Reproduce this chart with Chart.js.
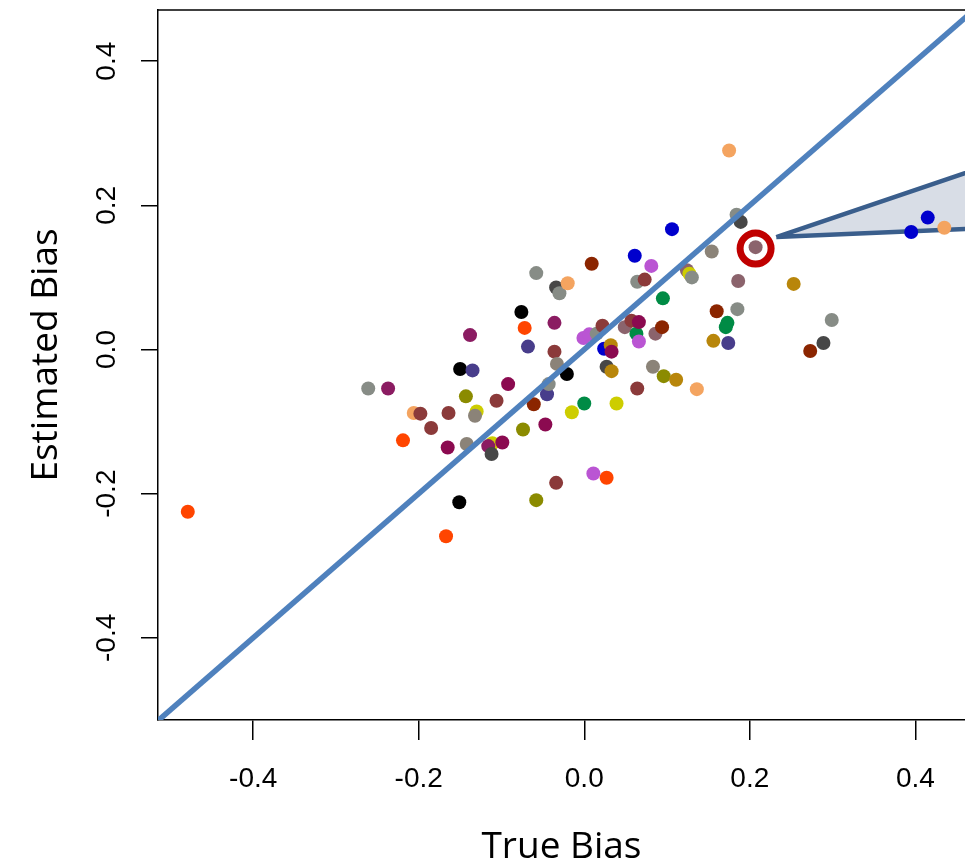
<!DOCTYPE html>
<html>
<head>
<meta charset="utf-8">
<script src="https://cdn.jsdelivr.net/npm/chart.js@4.4.1/dist/chart.umd.min.js"></script>
<style>
  html, body { margin: 0; padding: 0; background: #fff; }
  canvas { display: block; }
</style>
</head>
<body>
<canvas id="chart-bias" width="965" height="866"></canvas>
<script>
// values
const trueBias = [
  -0.479, -0.261, -0.237, -0.219, -0.206, -0.198, -0.185, -0.164, -0.165, -0.167,
  -0.151, -0.150, -0.135, -0.138, -0.143, -0.130, -0.132, -0.142, -0.106, -0.092,
  -0.111, -0.099, -0.116, -0.112, -0.076, -0.072, -0.068, -0.074, -0.061, -0.058,
  -0.058, -0.047, -0.045, -0.043, -0.036, -0.036, -0.033, -0.034, -0.030, -0.034,
  -0.021, -0.020, -0.015, 0.000, -0.001, 0.006, 0.009, 0.011, 0.015, 0.022,
  0.024, 0.027, 0.027, 0.032, 0.033, 0.033, 0.039, 0.049, 0.057, 0.061,
  0.064, 0.073, 0.063, 0.066, 0.066, 0.064, 0.081, 0.083, 0.086, 0.094,
  0.095, 0.096, 0.106, 0.111, 0.124, 0.127, 0.130, 0.136, 0.154, 0.156,
  0.160, 0.171, 0.173, 0.174, 0.175, 0.184, 0.189, 0.186, 0.185, 0.207,
  0.253, 0.273, 0.289, 0.299, 0.395, 0.415, 0.435
];
const estBias = [
  -0.225, -0.054, -0.054, -0.126, -0.088, -0.089, -0.109, -0.088, -0.136, -0.259,
  -0.212, -0.027, -0.029, 0.020, -0.065, -0.086, -0.092, -0.131, -0.071, -0.048,
  -0.130, -0.129, -0.134, -0.145, 0.052, 0.030, 0.004, -0.111, -0.076, 0.106,
  -0.209, -0.104, -0.062, -0.048, 0.037, -0.003, -0.020, 0.086, 0.078, -0.185,
  -0.034, 0.092, -0.087, -0.075, 0.016, 0.021, 0.119, -0.172, 0.022, 0.033,
  0.001, -0.024, -0.178, 0.006, -0.003, -0.030, -0.075, 0.031, 0.040, 0.130,
  0.094, 0.097, 0.022, 0.038, 0.011, -0.054, 0.116, -0.024, 0.022, 0.031,
  0.071, -0.037, 0.167, -0.042, 0.110, 0.105, 0.100, -0.055, 0.136, 0.012,
  0.053, 0.031, 0.037, 0.009, 0.276, 0.187, 0.177, 0.095, 0.056, 0.142,
  0.091, -0.002, 0.009, 0.041, 0.163, 0.183, 0.169
];
const dotColors = [
  '#FF4500', '#878C86', '#8B1C62', '#FF4500', '#F4A460', '#8B3A3A', '#8B3A3A', '#8B3A3A', '#8B0A50', '#FF4500',
  '#000000', '#000000', '#483D8B', '#8B1C62', '#8B8B00', '#CDCD00', '#8B8378', '#8B8378', '#8B3A3A', '#8B0A50',
  '#CDCD00', '#8B0A50', '#8B1C62', '#474747', '#000000', '#FF4500', '#483D8B', '#8B8B00', '#8B2500', '#878C86',
  '#8B8B00', '#8B0A50', '#483D8B', '#878C86', '#8B1C62', '#8B3A3A', '#8B8378', '#474747', '#878C86', '#8B3A3A',
  '#000000', '#F4A460', '#CDCD00', '#008B45', '#BA55D3', '#BA55D3', '#8B2500', '#BA55D3', '#878C86', '#8B3A3A',
  '#0000CD', '#474747', '#FF4500', '#B8860B', '#8B0A50', '#B8860B', '#CDCD00', '#8B636C', '#8B3A3A', '#0000CD',
  '#878C86', '#8B3A3A', '#008B45', '#8B0A50', '#BA55D3', '#8B3A3A', '#BA55D3', '#8B8378', '#8B636C', '#8B2500',
  '#008B45', '#8B8B00', '#0000CD', '#B8860B', '#8B636C', '#CDCD00', '#878C86', '#F4A460', '#8B8378', '#B8860B',
  '#8B2500', '#008B45', '#008B45', '#483D8B', '#F4A460', '#878C86', '#474747', '#8B636C', '#878C86', '#8B636C',
  '#B8860B', '#8B2500', '#474747', '#878C86', '#0000CD', '#0000CD', '#F4A460'
];
const xTicks = [-0.4, -0.2, 0.0, 0.2, 0.4];
const yTicks = [-0.4, -0.2, 0.0, 0.2, 0.4];
const xRange = [-0.515, 0.46];
const yRange = [-0.514, 0.471];
const diagonal = [-0.52, 0.47];
const highlightX = [0.207];
const highlightY = [0.140];
const calloutX = [0.232, 0.55, 0.55, 0.232];
const calloutY = [0.156, 0.2795, 0.1717, 0.156];

const dots = trueBias.map((x, i) => ({x: x, y: estBias[i]}));
const ring = highlightX.map((x, i) => ({x: x, y: highlightY[i]}));
const callout = calloutX.map((x, i) => ({x: x, y: calloutY[i]}));
const line = diagonal.map(v => ({x: v, y: v}));

function noPad(s) {
  s.paddingLeft = 0; s.paddingRight = 0; s.paddingTop = 0; s.paddingBottom = 0;
}

const frame = {
  id: 'frame',
  afterDraw(chart) {
    const {ctx, chartArea: a, scales: {y}} = chart;
    ctx.save();
    ctx.strokeStyle = '#000';
    ctx.lineWidth = 1.5;
    ctx.beginPath();
    ctx.moveTo(a.left, a.top);
    ctx.lineTo(a.right, a.top);
    ctx.stroke();
    ctx.fillStyle = '#000';
    ctx.textAlign = 'center';
    ctx.textBaseline = 'middle';
    ctx.font = '28px "Liberation Sans"';
    yTicks.forEach(v => {
      ctx.save();
      ctx.translate(107, y.getPixelForValue(v));
      ctx.rotate(-Math.PI / 2);
      ctx.fillText(v.toFixed(1), 0, 0);
      ctx.restore();
    });
    ctx.font = '37px "Open Sans"';
    ctx.translate(46, 355);
    ctx.rotate(-Math.PI / 2);
    ctx.fillText('Estimated Bias', 0, 0);
    ctx.restore();
  }
};

new Chart(document.getElementById('chart-bias'), {
  type: 'scatter',
  data: {
    datasets: [
      {
        type: 'line',
        data: line,
        borderColor: '#4F81BD',
        borderWidth: 5.5,
        pointRadius: 0,
        clip: 0,
        order: 0
      },
      {
        data: ring,
        pointRadius: 15.5,
        borderWidth: 7,
        borderColor: '#C00000',
        backgroundColor: 'rgba(0,0,0,0)',
        order: 1
      },
      {
        data: dots,
        pointRadius: 7,
        borderWidth: 0,
        backgroundColor: dotColors,
        order: 2
      },
      {
        type: 'line',
        data: callout,
        fill: 'shape',
        backgroundColor: '#D8DDE6',
        borderColor: '#3A5E8C',
        borderWidth: 4.5,
        borderJoinStyle: 'round',
        pointRadius: 0,
        clip: 0,
        order: 3
      }
    ]
  },
  options: {
    responsive: false,
    animation: false,
    events: [],
    layout: { autoPadding: false, padding: { top: 10, left: 0, right: 0, bottom: 0 } },
    plugins: { legend: { display: false }, tooltip: { enabled: false } },
    scales: {
      x: {
        type: 'linear',
        min: xRange[0],
        max: xRange[1],
        afterBuildTicks: s => { s.ticks = xTicks.map(v => ({value: v})); },
        afterFit: s => { s.height = 146; noPad(s); },
        ticks: {
          color: '#000',
          padding: 22,
          font: { family: 'Liberation Sans', size: 28 },
          callback: v => v.toFixed(1)
        },
        grid: { drawOnChartArea: false, drawTicks: true, tickLength: 20, color: '#000', lineWidth: 1.5 },
        border: { display: true, color: '#000', width: 1.5 },
        title: {
          display: true,
          text: 'True Bias',
          color: '#000',
          font: { family: 'Open Sans', size: 37, lineHeight: 1 },
          padding: { top: 0, bottom: 0 }
        }
      },
      y: {
        type: 'linear',
        min: yRange[0],
        max: yRange[1],
        afterBuildTicks: s => { s.ticks = yTicks.map(v => ({value: v})); },
        afterFit: s => { s.width = 158; noPad(s); },
        ticks: { display: false },
        grid: { drawOnChartArea: false, drawTicks: true, tickLength: 17, color: '#000', lineWidth: 1.5 },
        border: { display: true, color: '#000', width: 1.5 }
      }
    }
  },
  plugins: [frame]
});
</script>
</body>
</html>
